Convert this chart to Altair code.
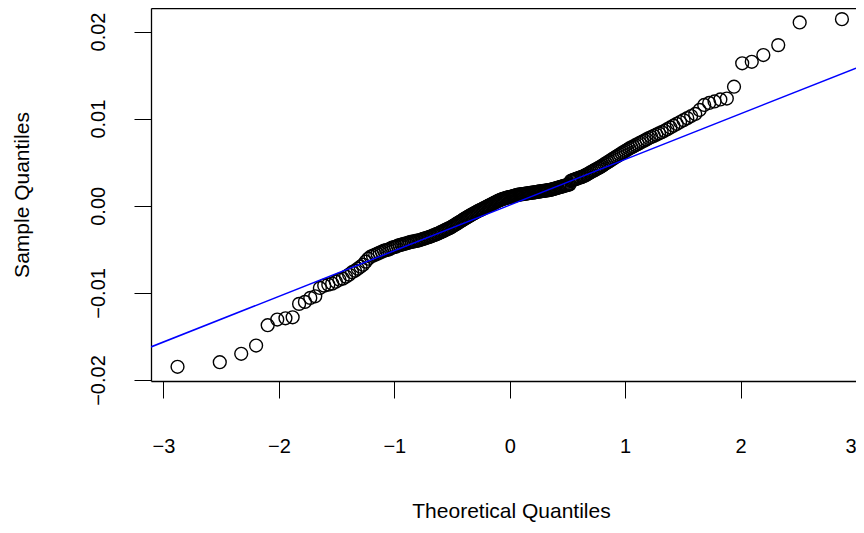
import altair as alt
import pandas as pd
import numpy as np
from statistics import NormalDist

# Sorted sample values (n = 250)
sample_lower = [
    -0.01848, -0.01795, -0.01699, -0.01604, -0.01371, -0.01306, -0.01291, -0.01280, -0.01126, -0.01103,
    -0.01057, -0.01039, -0.00943, -0.00916, -0.00905, -0.00893, -0.00871, -0.00848, -0.00836, -0.00813,
    -0.00790, -0.00762, -0.00745, -0.00722, -0.00699, -0.00676, -0.00641, -0.00607, -0.00584, -0.00573,
    -0.00561, -0.00550, -0.00538, -0.00527, -0.00516, -0.00510, -0.00504, -0.00493, -0.00481, -0.00475,
    -0.00470, -0.00458, -0.00452, -0.00447, -0.00441, -0.00435, -0.00430, -0.00424, -0.00418, -0.00412,
    -0.00410, -0.00407, -0.00401, -0.00399, -0.00393, -0.00387, -0.00381, -0.00376, -0.00370, -0.00364,
    -0.00359, -0.00353, -0.00347, -0.00339, -0.00334, -0.00326, -0.00321, -0.00313, -0.00305, -0.00298,
    -0.00291, -0.00283, -0.00275, -0.00268, -0.00260, -0.00254, -0.00246, -0.00235, -0.00227, -0.00218,
    -0.00208, -0.00199, -0.00190, -0.00181, -0.00172, -0.00163, -0.00153, -0.00144, -0.00136, -0.00128,
    -0.00119, -0.00111, -0.00103, -0.00095, -0.00087, -0.00080, -0.00072, -0.00064, -0.00057, -0.00050,
    -0.00044, -0.00037, -0.00030, -0.00023, -0.00016, -0.00009, -0.00002, 0.00005, 0.00011, 0.00018,
    0.00025, 0.00032, 0.00039, 0.00046, 0.00053, 0.00060, 0.00065, 0.00071, 0.00076, 0.00080,
    0.00085, 0.00089, 0.00093, 0.00096, 0.00100,
]
sample_upper = [
    0.00102, 0.00105, 0.00109, 0.00113, 0.00117, 0.00120, 0.00125, 0.00127, 0.00129, 0.00131,
    0.00133, 0.00135, 0.00137, 0.00139, 0.00141, 0.00143, 0.00145, 0.00147, 0.00149, 0.00151,
    0.00153, 0.00155, 0.00157, 0.00159, 0.00162, 0.00164, 0.00166, 0.00168, 0.00171, 0.00172,
    0.00174, 0.00176, 0.00179, 0.00181, 0.00183, 0.00187, 0.00191, 0.00195, 0.00199, 0.00204,
    0.00207, 0.00212, 0.00216, 0.00220, 0.00225, 0.00229, 0.00234, 0.00237, 0.00242, 0.00246,
    0.00286, 0.00292, 0.00298, 0.00304, 0.00309, 0.00315, 0.00321, 0.00326, 0.00332, 0.00338,
    0.00346, 0.00355, 0.00364, 0.00373, 0.00384, 0.00393, 0.00403, 0.00412, 0.00422, 0.00432,
    0.00441, 0.00452, 0.00464, 0.00477, 0.00488, 0.00501, 0.00512, 0.00525, 0.00538, 0.00551,
    0.00564, 0.00576, 0.00590, 0.00603, 0.00616, 0.00630, 0.00644, 0.00658, 0.00670, 0.00682,
    0.00695, 0.00708, 0.00721, 0.00734, 0.00748, 0.00762, 0.00777, 0.00789, 0.00802, 0.00817,
    0.00831, 0.00845, 0.00861, 0.00880, 0.00899, 0.00919, 0.00940, 0.00961, 0.00983, 0.01006,
    0.01030, 0.01054, 0.01100, 0.01157, 0.01180, 0.01197, 0.01220, 0.01231, 0.01367, 0.01635,
    0.01653, 0.01730, 0.01844, 0.02104, 0.02142,
]
sample = sample_lower + sample_upper

x_ticks = [-3, -2, -1, 0, 1, 2, 3]
y_ticks = [-0.02, -0.01, 0.0, 0.01, 0.02]
x_title = "Theoretical Quantiles"
y_title = "Sample Quantiles"

df = pd.DataFrame({"sample": sample})

# qqline: line through the first and third quartiles
nd = NormalDist()
q1, q3 = np.quantile(sample, [0.25, 0.75])
t1, t3 = nd.inv_cdf(0.25), nd.inv_cdf(0.75)
slope = (q3 - q1) / (t3 - t1)
intercept = q1 - slope * t1
XDOM = [-3.108, 3.0]
YDOM = [-0.02011, 0.0227]
line_df = pd.DataFrame({"x": XDOM, "y": [intercept + slope * v for v in XDOM]})

FONT = "Liberation Sans"
FS = 20
TFS = 21
xscale = alt.Scale(domain=XDOM, nice=False, zero=False)
yscale = alt.Scale(domain=YDOM, nice=False, zero=False)

xaxis = alt.Axis(
    orient="bottom",
    title=x_title, values=x_ticks, format="d", grid=False,
    domain=True, domainColor="black", domainWidth=1.3,
    tickSize=17, tickColor="black", tickWidth=1,
    labelFont=FONT, labelFontSize=FS, labelColor="black", labelPadding=54,
    labelBaseline="alphabetic", labelFlush=False, labelOverlap=False,
    labelAlign={"condition": {"test": "datum.value >= 3", "value": "right"}, "value": "center"},
    titleFont=FONT, titleFontSize=TFS, titleFontWeight="normal", titleColor="black",
    titleX=360, titleY=136, titleAlign="center", titleBaseline="alphabetic",
)
yaxis = alt.Axis(
    title=y_title, values=y_ticks, format=".2f", grid=False,
    domain=True, domainColor="black", domainWidth=1.3,
    tickSize=17, tickColor="black", tickWidth=1,
    labelFont=FONT, labelFontSize=FS, labelColor="black", labelPadding=30,
    labelAngle=270, labelAlign="center", labelBaseline="alphabetic",
    labelFlush=False, labelOverlap=False,
    titleFont=FONT, titleFontSize=TFS, titleFontWeight="normal", titleColor="black",
    titleX=-123, titleAngle=270, titleAlign="center", titleBaseline="alphabetic",
)
top_axis = alt.Axis(
    orient="top", title=None, labels=False, ticks=False, grid=False,
    domain=True, domainColor="black", domainWidth=1.3,
)

points = (
    alt.Chart(df)
    .transform_window(rank="row_number()", sort=[alt.SortField("sample")])
    .transform_joinaggregate(n="count()")
    .transform_calculate(theo="quantileNormal((datum.rank - 0.5) / datum.n)")
    .mark_point(shape="circle", filled=False, size=165, color="black",
                strokeWidth=1.4, opacity=1, clip=True)
    .encode(
        x=alt.X("theo:Q", scale=xscale, axis=xaxis),
        y=alt.Y("sample:Q", scale=yscale, axis=yaxis),
    )
)

line = (
    alt.Chart(line_df)
    .mark_line(color="#0000FF", strokeWidth=1.5, clip=True)
    .encode(x=alt.X("x:Q", scale=xscale, axis=top_axis),
            y=alt.Y("y:Q", scale=yscale))
)

chart = (
    alt.layer(points, line)
    .resolve_axis(x="independent")
    .properties(
        width=705, height=373,
        autosize=alt.AutoSizeParams(type="none"),
        padding={"left": 143, "top": 0, "right": 0, "bottom": 144},
        background="white",
    )
    .configure_view(stroke=None)
)

chart.save("out.html", embed_options={"renderer": "svg", "actions": False})
